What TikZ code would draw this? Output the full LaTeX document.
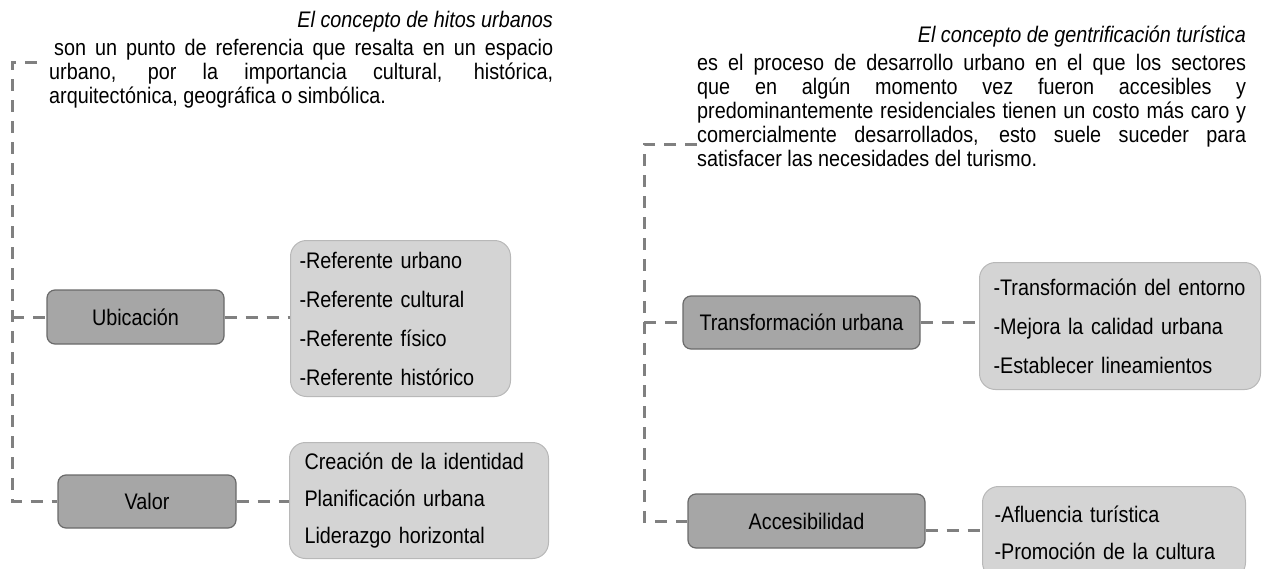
\documentclass[tikz,border=0pt]{standalone}
\usepackage{fontspec}
\setmainfont{Liberation Sans}[FakeStretch=0.88]
\definecolor{lineg}{HTML}{808080}
\definecolor{darkfill}{HTML}{A6A6A6}
\definecolor{darkedge}{HTML}{6A6A6A}
\definecolor{lightfill}{HTML}{D4D4D4}
\definecolor{lightedge}{HTML}{B8B8B8}
\newcommand{\txtfont}{\fontsize{22.5}{24}\selectfont}
\newcommand{\ttlfont}{\fontsize{22.5}{24}\selectfont\itshape}
\newcommand{\boxfont}{\fontsize{22.5}{38}\selectfont}
\begin{document}
\begin{tikzpicture}[x=1pt,y=-1pt,
  dline/.style={draw=lineg, line width=3pt, dash pattern=on 12pt off 9pt},
  darkbox/.style={draw=darkedge, fill=darkfill, line width=1.2pt, rounded corners=8pt, font=\txtfont, inner sep=0pt},
  listbox/.style={draw=lightedge, fill=lightfill, line width=1pt, rounded corners=16pt, align=left, inner xsep=12pt, inner ysep=0pt, font=\boxfont},
  para/.style={font=\txtfont, align=justify, inner sep=0pt},
  ttl/.style={font=\ttlfont, inner sep=0pt}]
\useasboundingbox (0,0) rectangle (1267,568);
\clip (0,0) rectangle (1267,568);

% titles and paragraphs
\node[ttl, anchor=base east] (t1) at (553,27) {El concepto de hitos urbanos};
\node[para, text width=504pt, anchor=base west] (p1) at (49,55) {\hspace*{5pt}son un punto de referencia que resalta en un espacio\linebreak urbano, por la importancia cultural, histórica,\linebreak arquitectónica, geográfica o simbólica.};
\node[ttl, anchor=base east] (t2) at (1246,42) {El concepto de gentrificación turística};
\node[para, text width=549pt, anchor=base west] (p2) at (697,70) {es el proceso de desarrollo urbano en el que los sectores\linebreak que en algún momento vez fueron accesibles y\linebreak predominantemente residenciales tienen un costo más caro y\linebreak comercialmente desarrollados, esto suele suceder para\linebreak satisfacer las necesidades del turismo.};

% left nodes
\node[darkbox, minimum width=177pt, minimum height=54pt] (ubi) at (135.5,317) {Ubicación};
\node[listbox, text width=202pt, inner xsep=9pt, minimum height=156pt, anchor=north west, font=\fontsize{22.5}{39}\selectfont] (ubiL) at (290,240) {-Referente urbano\\-Referente cultural\\-Referente físico\\-Referente histórico};
\node[darkbox, minimum width=178pt, minimum height=53pt] (val) at (147,501.5) {Valor};
\node[listbox, text width=229pt, inner xsep=15pt, minimum height=116pt, anchor=north west, font=\fontsize{22.5}{37}\selectfont] (valL) at (289,442) {Creación de la identidad\\Planificación urbana\\Liderazgo horizontal};

% right nodes
\node[darkbox, minimum width=237pt, minimum height=53pt] (tra) at (801.5,322.5) {Transformación urbana};
\node[listbox, text width=253pt, inner xsep=14pt, minimum height=127pt, anchor=north west, font=\fontsize{22.5}{39}\selectfont] (traL) at (979,262) {-Transformación del entorno\\-Mejora la calidad urbana\\-Establecer lineamientos};
\node[darkbox, minimum width=237pt, minimum height=54pt] (acc) at (806.5,521) {Accesibilidad};
\node[listbox, text width=239pt, inner xsep=12pt, minimum height=92pt, anchor=north west, font=\fontsize{22.5}{37}\selectfont] (accL) at (982,486) {-Afluencia turística\\-Promoción de la cultura};

% connectors left
\coordinate (lcs) at (37,62);
\coordinate (lc) at (12,62);
\coordinate (lu) at (12,317);
\coordinate (lb) at (12,501.5);
\draw[dline] (lcs) -- (lc) -- (lb) -- (val.west);
\draw[dline] (lu) -- (ubi.west);
\draw[dline] (ubi.east) -- (ubi.east -| ubiL.west);
\draw[dline] (val.east) -- (val.east -| valL.west);

% connectors right
\coordinate (rcs) at (697,144);
\coordinate (rc) at (644,144);
\coordinate (rt) at (644,322.5);
\coordinate (rb) at (644,521);
\draw[dline] (rcs) -- (rc) -- (rb) -- (acc.west);
\draw[dline] (rt) -- (tra.west);
\draw[dline] (tra.east) -- (tra.east -| traL.west);
\draw[dline] ([yshift=-9pt]acc.east) -- ([yshift=-9pt]acc.east -| accL.west);
\end{tikzpicture}
\end{document}
